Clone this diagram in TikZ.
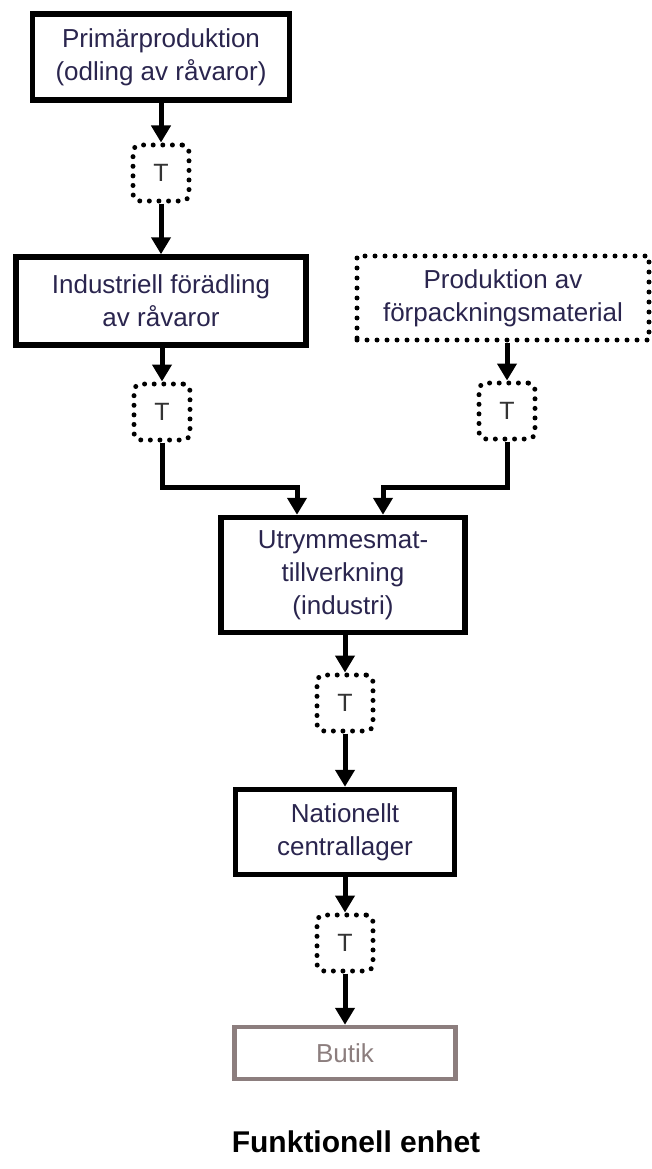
\documentclass[tikz,border=0pt]{standalone}
\usepackage{fontspec}
\setmainfont{Liberation Sans}
\usetikzlibrary{arrows.meta,positioning}
\definecolor{labeltext}{RGB}{42,37,78}
\definecolor{shopgray}{RGB}{140,126,126}

\begin{document}
\begin{tikzpicture}[x=1pt, y=-1pt,
  stagebox/.style={draw, line width=5.5pt, align=center, inner sep=0pt,
    text=labeltext, font=\fontsize{26}{33}\selectfont},
  extbox/.style={stagebox, line width=5pt, dash pattern=on 0pt off 10pt, line cap=round},
  transport/.style={draw, line width=5pt, dash pattern=on 0pt off 9.6pt, line cap=round,
    rounded corners=7pt, minimum size=56pt, inner sep=0pt,
    text=black!80, font=\fontsize{25}{30}\selectfont},
  flow/.style={line width=5pt, -{Triangle[length=17pt,width=19pt]}}
]
  \useasboundingbox (0,0) rectangle (652,1169);

  % left chain
  \node[stagebox, minimum width=257pt, minimum height=86pt] (prim) at (161,57)
    {Primärproduktion\\(odling av råvaror)};
  \node[transport] (t1) at (161,173) {T};
  \node[stagebox, minimum width=290pt, minimum height=88pt] (ind) at (161,301)
    {Industriell förädling\\av råvaror};
  \node[transport] (t2) at (162,412) {T};

  % packaging
  \node[extbox, minimum width=292pt, minimum height=84pt] (pack) at (503,298)
    {Produktion av\\förpackningsmaterial};
  \node[transport] (t3) at (507,411) {T};

  % main column
  \node[stagebox, minimum width=244pt, minimum height=115pt] (utr) at (343,575)
    {Utrymmesmat-\\tillverkning\\(industri)};
  \node[transport] (t4) at (345,703) {T};
  \node[stagebox, minimum width=219pt, minimum height=85pt] (nat) at (345,832)
    {Nationellt\\centrallager};
  \node[transport] (t5) at (345,943) {T};
  \node[stagebox, draw=shopgray, text=shopgray, line width=4.5pt,
    minimum width=221pt, minimum height=52pt] (butik) at (345,1053) {Butik};

  \node[font=\fontsize{30}{36}\selectfont\bfseries] (title) at (356,1142) {Funktionell enhet};

  \coordinate (jl) at (297,487);
  \coordinate (jr) at (383,487);

  \draw[flow] (prim) -- (t1);
  \draw[flow] (t1) -- (ind);
  \draw[flow] (ind.south -| t2) -- (t2);
  \draw[flow] (pack.south -| t3) -- (t3);
  \draw[flow] (t2.south) |- (jl) -- (jl |- utr.north);
  \draw[flow] (t3.south) |- (jr) -- (jr |- utr.north);
  \draw[flow] (utr.south -| t4) -- (t4);
  \draw[flow] (t4) -- (nat);
  \draw[flow] (nat) -- (t5);
  \draw[flow] (t5) -- (butik);
\end{tikzpicture}
\end{document}
